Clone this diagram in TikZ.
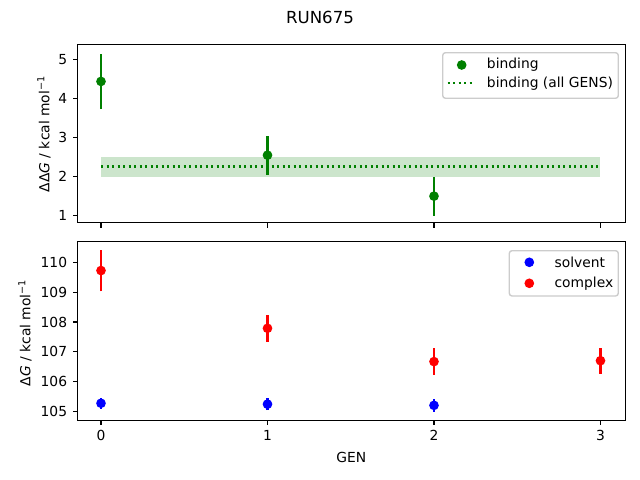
\documentclass[tikz,border=0pt]{standalone}
\usepackage{fontspec}
\setmainfont{DejaVu Sans}
\usetikzlibrary{positioning}
\definecolor{mplgreen}{RGB}{0,128,0}
\definecolor{mplblue}{RGB}{0,0,255}
\definecolor{mplred}{RGB}{255,0,0}
\definecolor{legendedge}{gray}{0.8}

\begin{document}
\begin{tikzpicture}[x=0.01in,y=-0.01in,font=\fontsize{10}{12}\selectfont]
        \tikzstyle{every node}+=[inner sep=0pt]
        \tikzstyle{axisframe}=[line width=0.8pt,black]
        \tikzstyle{tickline}=[line width=0.8pt,black]
        \tikzstyle{errbar}=[line width=1.5pt]
        \tikzstyle{legendbox}=[draw=legendedge,fill=white,fill opacity=0.8,rounded corners=2pt,line width=1pt]
        \tikzstyle{meanline}=[mplgreen,line width=1.5pt,dash pattern=on 1.5pt off 2.475pt]
        \useasboundingbox (0,0) rectangle (640,480);
        \fill [white] (0,0) rectangle (640,480);
        \node (title) at (320,17) {\fontsize{12}{14}\selectfont RUN675};
        % top panel: binding
        \begin{scope}[shift={(101,254.3)},x=1.664in,y=0.39in]
            \fill [mplgreen,fill opacity=0.2] (0,1.97) rectangle (3,2.49);
            \draw [meanline] (0,2.25) -- (3,2.25);
            \foreach \g/\v/\e in {0/4.43/0.71,1/2.54/0.5,2/1.49/0.5} {
                \draw [errbar,mplgreen] (\g,{\v-\e}) -- (\g,{\v+\e});
                \fill [mplgreen] (\g,\v) circle (3.5pt);
            }
            \foreach \g in {0,...,3}
                \draw [tickline] (\g,0.81) -- ++(0,-3.5pt);
            \foreach \v in {1,...,5}
                \draw [tickline] (-0.142,\v) -- ++(-3.5pt,0) node [anchor=east,xshift=-3.5pt] {\v};
            \draw [axisframe] (-0.142,0.81) rectangle (3.151,5.367);
        \end{scope}
        \node (ylabtop) [rotate=90] at (44,134) {ΔΔ\textit{G} / kcal mol\textsuperscript{−1}};
        \draw [legendbox] (442.7,52.7) rectangle (618.3,98.3);
        \fill [mplgreen] (461.7,65) circle (3.5pt);
        \node (legbind) [anchor=west] at (486.7,65) {binding};
        \coordinate (legdotA) at (447.7,83.3);
        \coordinate (legdotB) at (475,83.3);
        \draw [meanline] (legdotA) -- (legdotB);
        \node (legall) [anchor=west] at (486.7,83.3) {binding (all GENS)};
        % bottom panel: solvent and complex
        \begin{scope}[shift={(101,3535.7)},x=1.664in,y=0.2974in]
            \foreach \g/\v/\e in {0/105.27/0.19,1/105.24/0.2,2/105.20/0.21} {
                \draw [errbar,mplblue] (\g,{\v-\e}) -- (\g,{\v+\e});
                \fill [mplblue] (\g,\v) circle (3.5pt);
            }
            \foreach \g/\v/\e in {0/109.73/0.7,1/107.79/0.45,2/106.67/0.45,3/106.70/0.43} {
                \draw [errbar,mplred] (\g,{\v-\e}) -- (\g,{\v+\e});
                \fill [mplred] (\g,\v) circle (3.5pt);
            }
            \foreach \g in {0,...,3}
                \draw [tickline] (\g,104.70) -- ++(0,-3.5pt) node [anchor=north,yshift=-3.5pt] {\g};
            \foreach \v in {105,...,110}
                \draw [tickline] (-0.142,\v) -- ++(-3.5pt,0) node [anchor=east,xshift=-3.5pt] {\v};
            \draw [axisframe] (-0.142,104.70) rectangle (3.151,110.71);
        \end{scope}
        \node (ylabbot) [rotate=90] at (25,332.7) {Δ\textit{G} / kcal mol\textsuperscript{−1}};
        \node (xlab) at (351.3,457.7) {GEN};
        \draw [legendbox] (509.3,250.7) rectangle (618.3,296);
        \fill [mplblue] (529.3,262.3) circle (3.5pt);
        \node (legsolv) [anchor=west] at (554.3,262.3) {solvent};
        \fill [mplred] (529.3,283.3) circle (3.5pt);
        \node (legcplx) [anchor=west] at (554.3,283.3) {complex};
    \end{tikzpicture}
\end{document}
